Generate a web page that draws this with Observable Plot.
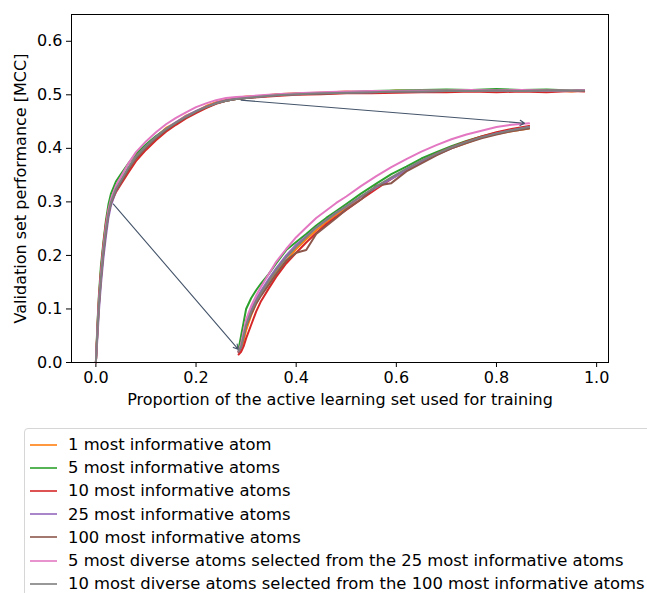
<!DOCTYPE html>
<html><head><meta charset="utf-8">
<script src="https://cdn.jsdelivr.net/npm/d3@7"></script>
<script src="https://cdn.jsdelivr.net/npm/@observablehq/plot@0.6"></script>
<style>
body{margin:0;background:#fff;font-family:"DejaVu Sans",sans-serif;overflow:hidden;width:647px;height:593px;position:relative}
#chart{position:absolute;left:0;top:0}
#legend{position:absolute;left:24px;top:428px;width:640px;height:200px;border:1px solid #d6d6d6;border-radius:4px;box-sizing:border-box;padding-top:4px;background:#fff}
.row{height:23.2px;display:flex;align-items:center;font-size:16.4px;color:#000;white-space:nowrap}
.row svg{margin-left:5px;margin-right:11px;flex:none}
</style></head><body>
<div id="chart"></div><div id="legend"></div>
<script>
const seriesNames = [
  "1 most informative atom",
  "5 most informative atoms",
  "10 most informative atoms",
  "25 most informative atoms",
  "100 most informative atoms",
  "5 most diverse atoms selected from the 25 most informative atoms",
  "10 most diverse atoms selected from the 100 most informative atoms"
];
const seriesColors = ["#ff7f0e","#2ca02c","#d62728","#9467bd","#8c564b","#e377c2","#7f7f7f"];

const xTicks = [0, 0.2, 0.4, 0.6, 0.8, 1.0];
const yTicks = [0, 0.1, 0.2, 0.3, 0.4, 0.5, 0.6];
const xLabel = "Proportion of the active learning set used for training";
const yLabel = "Validation set performance [MCC]";

// main learning curves
const mainX = [0, 0.003, 0.006, 0.01, 0.015, 0.02, 0.025, 0.03, 0.04, 0.05, 0.065, 0.08, 0.1, 0.12, 0.14, 0.16, 0.18, 0.2, 0.22, 0.24, 0.26, 0.28, 0.3, 0.33, 0.36, 0.4, 0.45, 0.5, 0.55, 0.6, 0.65, 0.7, 0.75, 0.8, 0.85, 0.9, 0.95, 0.975];
const mainY1 = [0, 0.058, 0.112, 0.165, 0.214, 0.252, 0.283, 0.301, 0.322, 0.338, 0.362, 0.386, 0.403, 0.421, 0.438, 0.448, 0.461, 0.469, 0.479, 0.486, 0.491, 0.494, 0.497, 0.498, 0.501, 0.503, 0.504, 0.506, 0.505, 0.508, 0.507, 0.509, 0.507, 0.509, 0.507, 0.509, 0.506, 0.508];
const mainY5 = [0, 0.07, 0.125, 0.18, 0.225, 0.265, 0.295, 0.315, 0.338, 0.352, 0.372, 0.39, 0.407, 0.423, 0.436, 0.447, 0.458, 0.468, 0.476, 0.484, 0.489, 0.492, 0.494, 0.497, 0.5, 0.502, 0.503, 0.505, 0.507, 0.508, 0.509, 0.51, 0.509, 0.511, 0.509, 0.51, 0.508, 0.509];
const mainY10 = [0, 0.065, 0.12, 0.17, 0.22, 0.26, 0.285, 0.298, 0.318, 0.333, 0.355, 0.376, 0.397, 0.415, 0.431, 0.444, 0.456, 0.466, 0.475, 0.483, 0.489, 0.492, 0.494, 0.496, 0.498, 0.5, 0.501, 0.503, 0.503, 0.504, 0.505, 0.505, 0.506, 0.505, 0.506, 0.505, 0.507, 0.506];
const mainY25 = [0, 0.045, 0.095, 0.145, 0.195, 0.235, 0.27, 0.293, 0.32, 0.337, 0.363, 0.384, 0.404, 0.421, 0.436, 0.449, 0.46, 0.47, 0.478, 0.485, 0.49, 0.493, 0.495, 0.497, 0.499, 0.501, 0.503, 0.504, 0.505, 0.506, 0.506, 0.507, 0.507, 0.508, 0.507, 0.507, 0.507, 0.508];
const mainY100 = [0, 0.055, 0.105, 0.155, 0.205, 0.245, 0.277, 0.297, 0.321, 0.336, 0.36, 0.381, 0.401, 0.419, 0.434, 0.447, 0.458, 0.468, 0.477, 0.484, 0.489, 0.492, 0.494, 0.497, 0.499, 0.501, 0.502, 0.504, 0.505, 0.506, 0.506, 0.507, 0.507, 0.508, 0.508, 0.508, 0.507, 0.508];
const mainYDiv5 = [0, 0.06, 0.115, 0.165, 0.215, 0.255, 0.285, 0.305, 0.33, 0.347, 0.372, 0.393, 0.413, 0.43, 0.445, 0.457, 0.467, 0.477, 0.484, 0.49, 0.494, 0.496, 0.497, 0.499, 0.501, 0.503, 0.505, 0.506, 0.507, 0.507, 0.508, 0.508, 0.509, 0.508, 0.509, 0.508, 0.508, 0.509];
const mainYDiv10 = [0, 0.058, 0.108, 0.158, 0.208, 0.248, 0.278, 0.299, 0.324, 0.34, 0.364, 0.384, 0.404, 0.421, 0.436, 0.448, 0.459, 0.469, 0.477, 0.484, 0.489, 0.492, 0.494, 0.497, 0.499, 0.501, 0.503, 0.504, 0.505, 0.506, 0.506, 0.507, 0.507, 0.508, 0.507, 0.508, 0.508, 0.508];

// zoomed inset of the initial phase, drawn in the main axes' coordinates
const insetX = [0.285, 0.29, 0.295, 0.30, 0.31, 0.32, 0.33, 0.345, 0.36, 0.38, 0.40, 0.42, 0.44, 0.46, 0.48, 0.50, 0.53, 0.56, 0.59, 0.62, 0.65, 0.68, 0.71, 0.74, 0.77, 0.80, 0.83, 0.865];
const insetY1 = [0.02, 0.025, 0.04, 0.06, 0.088, 0.11, 0.127, 0.15, 0.17, 0.19, 0.212, 0.23, 0.247, 0.262, 0.276, 0.289, 0.31, 0.328, 0.344, 0.36, 0.375, 0.389, 0.4, 0.41, 0.42, 0.427, 0.432, 0.437];
const insetY5 = [0.025, 0.05, 0.075, 0.1, 0.12, 0.135, 0.148, 0.165, 0.185, 0.21, 0.225, 0.24, 0.256, 0.27, 0.283, 0.296, 0.316, 0.334, 0.352, 0.366, 0.381, 0.393, 0.404, 0.414, 0.422, 0.429, 0.435, 0.44];
const insetY10 = [0.015, 0.02, 0.03, 0.045, 0.07, 0.095, 0.115, 0.138, 0.16, 0.185, 0.205, 0.224, 0.242, 0.258, 0.272, 0.285, 0.305, 0.324, 0.343, 0.36, 0.376, 0.39, 0.402, 0.413, 0.422, 0.43, 0.436, 0.442];
const insetY25 = [0.02, 0.028, 0.05, 0.072, 0.098, 0.118, 0.134, 0.156, 0.176, 0.2, 0.22, 0.236, 0.252, 0.266, 0.28, 0.291, 0.31, 0.327, 0.343, 0.359, 0.374, 0.388, 0.4, 0.411, 0.42, 0.428, 0.434, 0.44];
const insetY100 = [0.02, 0.03, 0.048, 0.068, 0.09, 0.11, 0.125, 0.145, 0.165, 0.19, 0.205, 0.21, 0.24, 0.255, 0.27, 0.286, 0.305, 0.33, 0.335, 0.357, 0.372, 0.387, 0.4, 0.41, 0.419, 0.426, 0.432, 0.437];
const insetYDiv5 = [0.022, 0.035, 0.058, 0.08, 0.105, 0.125, 0.142, 0.165, 0.188, 0.212, 0.234, 0.252, 0.27, 0.284, 0.298, 0.31, 0.33, 0.348, 0.365, 0.38, 0.394, 0.406, 0.417, 0.426, 0.433, 0.44, 0.444, 0.447];
const insetYDiv10 = [0.022, 0.03, 0.05, 0.07, 0.095, 0.115, 0.13, 0.152, 0.172, 0.196, 0.216, 0.234, 0.252, 0.266, 0.279, 0.292, 0.311, 0.329, 0.346, 0.362, 0.377, 0.39, 0.402, 0.412, 0.421, 0.428, 0.434, 0.44];

// annotation arrows (from main curve to inset corners)
const arrowX1 = [0.035, 0.29];
const arrowY1 = [0.296, 0.49];
const arrowX2 = [0.284, 0.856];
const arrowY2 = [0.025, 0.447];

const mainYs = [mainY1, mainY5, mainY10, mainY25, mainY100, mainYDiv5, mainYDiv10];
const insetYs = [insetY1, insetY5, insetY10, insetY25, insetY100, insetYDiv5, insetYDiv10];

const lineMarks = [];
seriesNames.forEach((name, i) => {
  const rows = mainX.map((x, j) => ({x, y: mainYs[i][j]}));
  lineMarks.push(Plot.line(rows, {x: "x", y: "y", stroke: seriesColors[i], strokeWidth: 2}));
});
seriesNames.forEach((name, i) => {
  const rows = insetX.map((x, j) => ({x, y: insetYs[i][j]}));
  lineMarks.push(Plot.line(rows, {x: "x", y: "y", stroke: seriesColors[i], strokeWidth: 2}));
});
const arrows = arrowX1.map((x1, i) => ({x1, y1: arrowY1[i], x2: arrowX2[i], y2: arrowY2[i]}));

const chart = Plot.plot({
  width: 647, height: 415,
  marginLeft: 71, marginRight: 39, marginTop: 14, marginBottom: 53,
  style: {fontFamily: "DejaVu Sans", fontSize: "16px", color: "#000", background: "#fff"},
  x: {domain: [-0.0487, 1.0237]},
  y: {domain: [0, 0.65]},
  marks: [
    Plot.axisX(xTicks, {tickSize: 5, tickPadding: 4, tickFormat: d3.format(".1f"), label: null, fontSize: 16}),
    Plot.axisY(yTicks, {tickSize: 5, tickPadding: 4, tickFormat: d3.format(".1f"), label: null, fontSize: 16}),
    ...lineMarks,
    Plot.arrow(arrows, {x1: "x1", y1: "y1", x2: "x2", y2: "y2", stroke: "#44546a", strokeWidth: 1.1, headLength: 7}),
    Plot.frame({stroke: "#000", strokeWidth: 1}),
    Plot.text([xLabel], {frameAnchor: "bottom", dy: 42, text: d => d, fontSize: 16}),
    Plot.text([yLabel], {frameAnchor: "left", dx: -51, rotate: -90, textAnchor: "middle", text: d => d, fontSize: 16})
  ]
});
document.getElementById("chart").appendChild(chart);

const legend = document.getElementById("legend");
seriesNames.forEach((name, i) => {
  const row = document.createElement("div");
  row.className = "row";
  row.innerHTML = `<svg width="27" height="4"><line x1="0" y1="2" x2="27" y2="2" stroke="${seriesColors[i]}" stroke-width="1.6"/></svg><span>${name}</span>`;
  legend.appendChild(row);
});
</script>
</body></html>
